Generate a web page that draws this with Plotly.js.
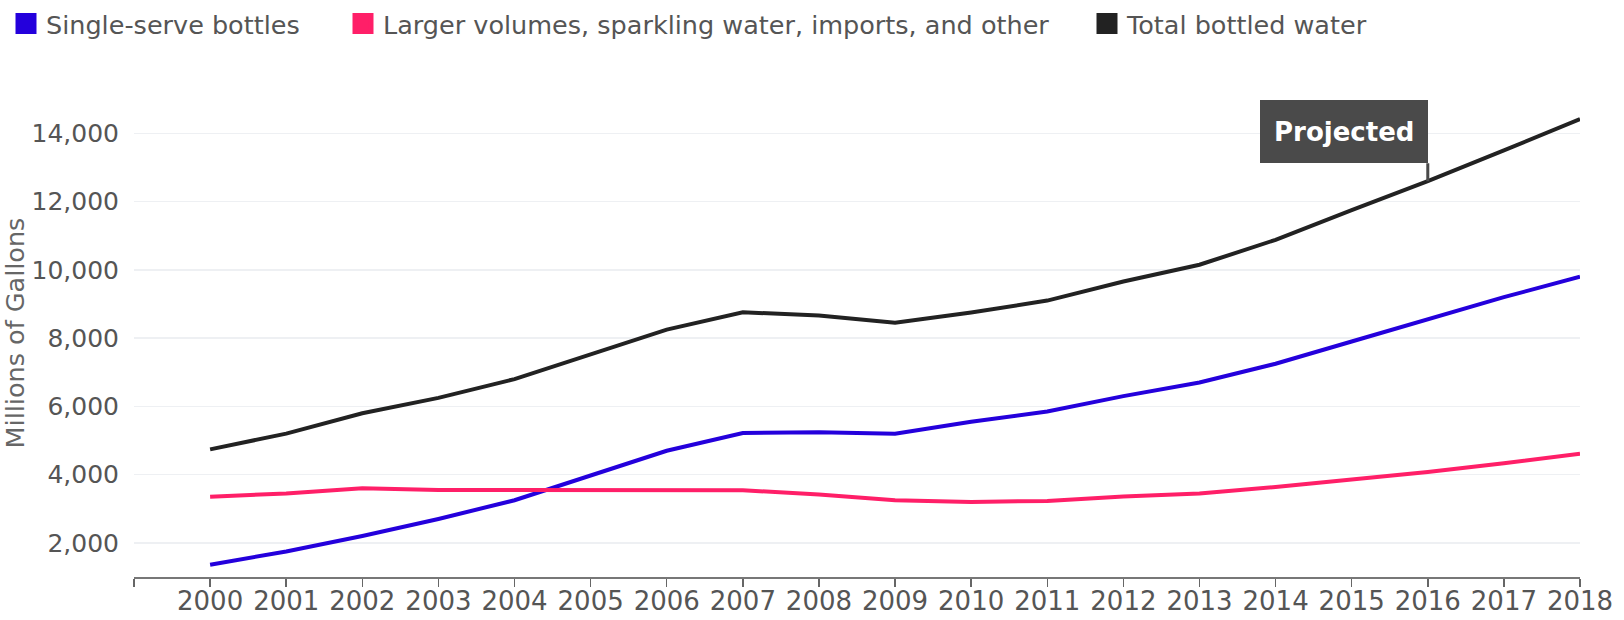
<!DOCTYPE html>
<html>
<head>
<meta charset="utf-8">
<script src="https://cdn.plot.ly/plotly-3.0.1.min.js"></script>
<style>
  html, body { margin: 0; padding: 0; background: #fff; }
  #chart { width: 1624px; height: 620px; }
</style>
</head>
<body>
<div id="chart"></div>
<script>
// ---- data (millions of gallons) ----
const years = [2000, 2001, 2002, 2003, 2004, 2005, 2006, 2007, 2008, 2009,
               2010, 2011, 2012, 2013, 2014, 2015, 2016, 2017, 2018];
const singleServe = [1360, 1750, 2200, 2700, 3250, 3990, 4700, 5220, 5240, 5200,
                     5550, 5850, 6300, 6700, 7250, 7900, 8550, 9200, 9800];
const largerOther = [3350, 3450, 3600, 3550, 3550, 3550, 3550, 3540, 3420, 3250,
                     3200, 3230, 3360, 3450, 3640, 3850, 4080, 4330, 4610];
const totalWater  = [4740, 5200, 5800, 6250, 6800, 7540, 8250, 8760, 8660, 8450,
                     8750, 9100, 9660, 10150, 10880, 11750, 12600, 13500, 14420];
const seriesNames = ["Single-serve bottles",
                     "Larger volumes, sparkling water, imports, and other",
                     "Total bottled water"];
const yTicks = [2000, 4000, 6000, 8000, 10000, 12000, 14000];
const projectedYear = 2016;
const annotationText = "Projected";
const yTitle = "Millions of Gallons";

// ---- styling ----
const colors = ["#2400dc", "#ff1f68", "#222222"];
const FONT = "DejaVu Sans, Liberation Sans, Arial, sans-serif";
const seriesValues = [singleServe, largerOther, totalWater];
const legendIds = ["legend", "legend2", "legend3"];

const traces = [];
seriesValues.forEach((vals, i) => {
  traces.push({
    type: "scatter", mode: "lines",
    x: years, y: vals,
    line: { color: colors[i], width: 4 },
    showlegend: false, hoverinfo: "skip"
  });
});
// legend-only entries with square swatches
seriesNames.forEach((name, i) => {
  traces.push({
    type: "scatter", mode: "markers",
    x: [null], y: [null],
    name: name,
    legend: legendIds[i],
    marker: { symbol: "square", size: 16, color: colors[i],
              line: { color: colors[i], width: 5 } },
    hoverinfo: "skip"
  });
});

const L = 134, R = 44, T = 89, B = 43;
const W = 1624, H = 620;

const legendBase = {
  orientation: "h", xanchor: "left", yanchor: "middle",
  xref: "container", yref: "container",
  font: { family: FONT, size: 25.5, color: "#555" },
  bgcolor: "rgba(0,0,0,0)", borderwidth: 0
};
const legendStarts = [6, 343, 1087];
const legendMidY = 1 - 24 / H;

const layout = {
  width: W, height: H,
  margin: { l: L, r: R, t: T, b: B, pad: 0, autoexpand: false },
  paper_bgcolor: "#fff", plot_bgcolor: "#fff",
  font: { family: FONT, color: "#555" },
  showlegend: true,
  legend:  Object.assign({}, legendBase, { x: legendStarts[0] / W, y: legendMidY }),
  legend2: Object.assign({}, legendBase, { x: legendStarts[1] / W, y: legendMidY }),
  legend3: Object.assign({}, legendBase, { x: legendStarts[2] / W, y: legendMidY }),
  xaxis: {
    range: [years[0] - 1, years[years.length - 1]],
    tickmode: "array",
    tickvals: [years[0] - 1].concat(years),
    ticktext: [""].concat(years.map(String)),
    ticks: "outside", ticklen: 8, tickwidth: 1.5, tickcolor: "#666",
    showline: true, linecolor: "#777", linewidth: 2,
    showgrid: false, zeroline: false,
    tickfont: { family: FONT, size: 26, color: "#555" },
    ticklabelstandoff: -8,
    automargin: false,
    fixedrange: true
  },
  yaxis: {
    range: [1000, 15300],
    tickmode: "array",
    tickvals: yTicks,
    ticktext: yTicks.map(v => v.toLocaleString("en-US")),
    showgrid: true, gridcolor: "#eef0f3", gridwidth: 1.5,
    zeroline: false, showline: false, ticks: "",
    tickfont: { family: FONT, size: 25, color: "#555" },
    ticklabelstandoff: 14,
    automargin: false,
    title: { text: yTitle, font: { family: FONT, size: 25.5, color: "#666" }, standoff: 6 },
    fixedrange: true
  },
  annotations: [{
    x: projectedYear, y: totalWater[years.indexOf(projectedYear)],
    xref: "x", yref: "y",
    text: "<b>" + annotationText + "</b>",
    font: { family: FONT, size: 26, color: "#ffffff" },
    bgcolor: "#4a4a4a", borderwidth: 0, borderpad: 14, height: 35,
    xanchor: "right", yanchor: "bottom",
    showarrow: true, arrowhead: 0, arrowwidth: 3, arrowcolor: "#4a4a4a",
    ax: 0, ay: -18, standoff: 0
  }],
  hovermode: false
};

Plotly.newPlot("chart", traces, layout, { displayModeBar: false, staticPlot: true });
</script>
</body>
</html>
